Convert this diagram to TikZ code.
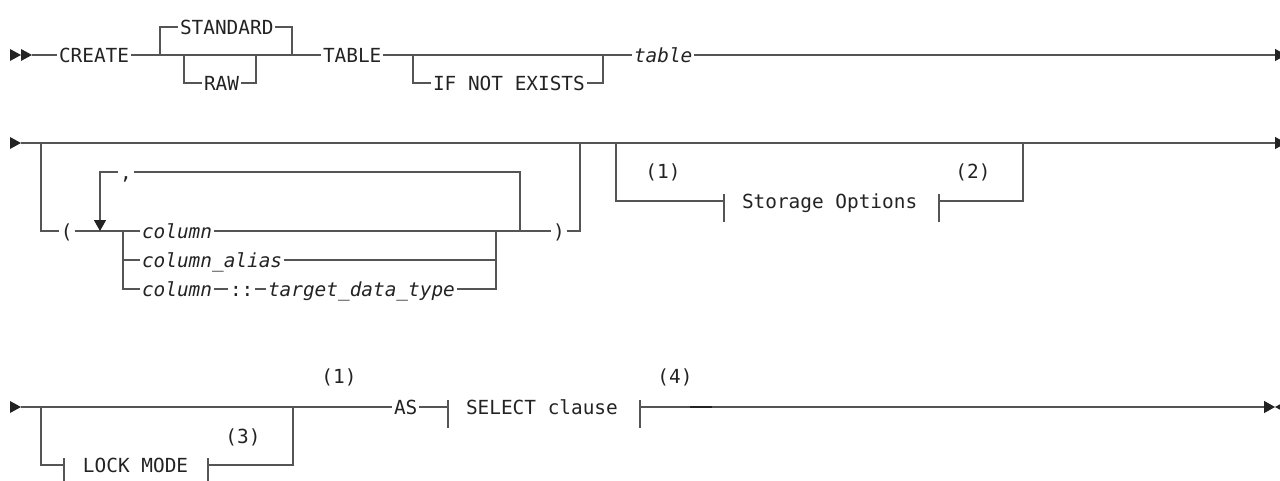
\documentclass[tikz,border=0pt]{standalone}
\usepackage{fontspec}
\setmainfont{DejaVu Sans Mono}
\usetikzlibrary{arrows.meta}
\definecolor{railgray}{RGB}{85,85,85}
\definecolor{inkgray}{RGB}{35,35,35}
\tikzset{
  rail/.style={draw=railgray, line width=0.7pt},
  kw/.style={anchor=west, inner xsep=0.8pt, inner ysep=0pt, text height=7.1pt, text depth=0pt, text=inkgray},
  var/.style={kw, font=\fontsize{9.7}{11}\selectfont\itshape},
  fnote/.style={inner sep=0pt, text=inkgray},
  tip/.style={-{Triangle[length=5.5pt,width=6pt,color=inkgray]}},
}
\newcommand{\fragbar}[1]{\draw[rail] (#1) ++(0,-7) -- ++(0,28);}
\newcommand{\railmark}[2]{\fill[inkgray] (#1,#2) ++(0,-6) -- ++(11,6) -- ++(-11,6) -- cycle;}
\begin{document}
\begin{tikzpicture}[x=0.5pt, y=-0.5pt, font=\fontsize{9.7}{11}\selectfont]
\useasboundingbox (0,0) rectangle (1280,481);

% row 1
\railmark{10}{55}
\railmark{21}{55}
\coordinate (r1a) at (32,55);
\node[kw] (create) at (57,55) {CREATE};
\node[kw] (standard) at (178,27) {STANDARD};
\node[kw] (raw) at (202,83) {RAW};
\node[kw] (table) at (321,55) {TABLE};
\node[kw] (ifne) at (431,83) {IF NOT EXISTS};
\node[var] (tbl) at (632,55) {table};
\coordinate (std1) at (160,55);
\coordinate (std2) at (292,55);
\coordinate (raw1) at (184,55);
\coordinate (raw2) at (256,55);
\coordinate (ifne1) at (413,55);
\coordinate (ifne2) at (603,55);
\coordinate (r1z) at (1286,55);
\draw[rail] (r1a) -- (create.west);
\draw[rail] (create.east) -- (table.west);
\draw[rail] (std1) |- (standard.west);
\draw[rail] (standard.east) -| (std2);
\draw[rail] (raw1) |- (raw.west);
\draw[rail] (raw.east) -| (raw2);
\draw[rail] (table.east) -- (tbl.west);
\draw[rail] (ifne1) |- (ifne.west);
\draw[rail] (ifne.east) -| (ifne2);
\draw[rail,tip] (tbl.east) -- (r1z);

% row 2
\railmark{10}{143}
\coordinate (r2a) at (21,143);
\coordinate (r2z) at (1286,143);
\draw[rail,tip] (r2a) -- (r2z);
% column list
\coordinate (par1) at (41,143);
\coordinate (par2) at (580,143);
\node[kw] (lpar) at (59,231) {(};
\node[kw] (rpar) at (551,231) {)};
\node[var] (col) at (140,231) {column};
\node[var] (alias) at (140,260) {column\_alias};
\node[var] (col2) at (140,289) {column};
\node[kw] (dcol) at (228,289) {::};
\node[var] (tdt) at (266,289) {target\_data\_type};
\node[kw] (comma) at (118,172) {,};
\coordinate (br1) at (123,231);
\coordinate (br2) at (496,231);
\coordinate (rep1) at (100,231);
\coordinate (rep2) at (520,231);
\draw[rail] (par1) |- (lpar.west);
\draw[rail] (lpar.east) -- (col.west);
\draw[rail] (col.east) -- (rpar.west);
\draw[rail] (rpar.east) -| (par2);
\draw[rail] (br1) |- (col2.west);
\draw[rail] (br1) |- (alias.west);
\draw[rail] (alias.east) -| (br2);
\draw[rail] (col2.east) -- (dcol.west);
\draw[rail] (dcol.east) -- (tdt.west);
\draw[rail] (tdt.east) -| (br2);
\draw[rail] (rep2) |- (comma.east);
\draw[rail,tip] (comma.west) -| (rep1);
% storage options
\coordinate (so1) at (616,143);
\coordinate (so2) at (1023,143);
\coordinate (soL) at (724,201);
\coordinate (soR) at (939,201);
\node[kw] (stor) at (740,201) {Storage Options};
\node[fnote] (n1a) at (663,172) {(1)};
\node[fnote] (n2) at (973,172) {(2)};
\draw[rail] (so1) |- (soL);
\fragbar{soL}
\fragbar{soR}
\draw[rail] (soR) -| (so2);

% row 3
\railmark{10}{407}
\coordinate (r3a) at (21,407);
\node[kw] (as) at (392,407) {AS};
\node[kw] (sel) at (464,407) {SELECT clause};
\node[kw] (lock) at (81,465) {LOCK MODE};
\node[fnote] (n3) at (243,437) {(3)};
\node[fnote] (n1b) at (339,377) {(1)};
\node[fnote] (n4) at (675,377) {(4)};
\coordinate (lk1) at (41,407);
\coordinate (lk2) at (293,407);
\coordinate (lkL) at (64,465);
\coordinate (lkR) at (208,465);
\coordinate (selL) at (448,407);
\coordinate (selR) at (640,407);
\coordinate (r3z) at (1275,407);
\draw[rail] (r3a) -- (as.west);
\draw[rail] (lk1) |- (lkL);
\fragbar{lkL}
\fragbar{lkR}
\draw[rail] (lkR) -| (lk2);
\draw[rail] (as.east) -- (selL);
\fragbar{selL}
\fragbar{selR}
\draw[rail,tip] (selR) -- (r3z);
\draw[inkgray, line width=1.2pt] (690,407) -- (712,407);
\fill[inkgray] (r3z) -- ++(11,-6) -- ++(0,12) -- cycle;
\end{tikzpicture}
\end{document}
